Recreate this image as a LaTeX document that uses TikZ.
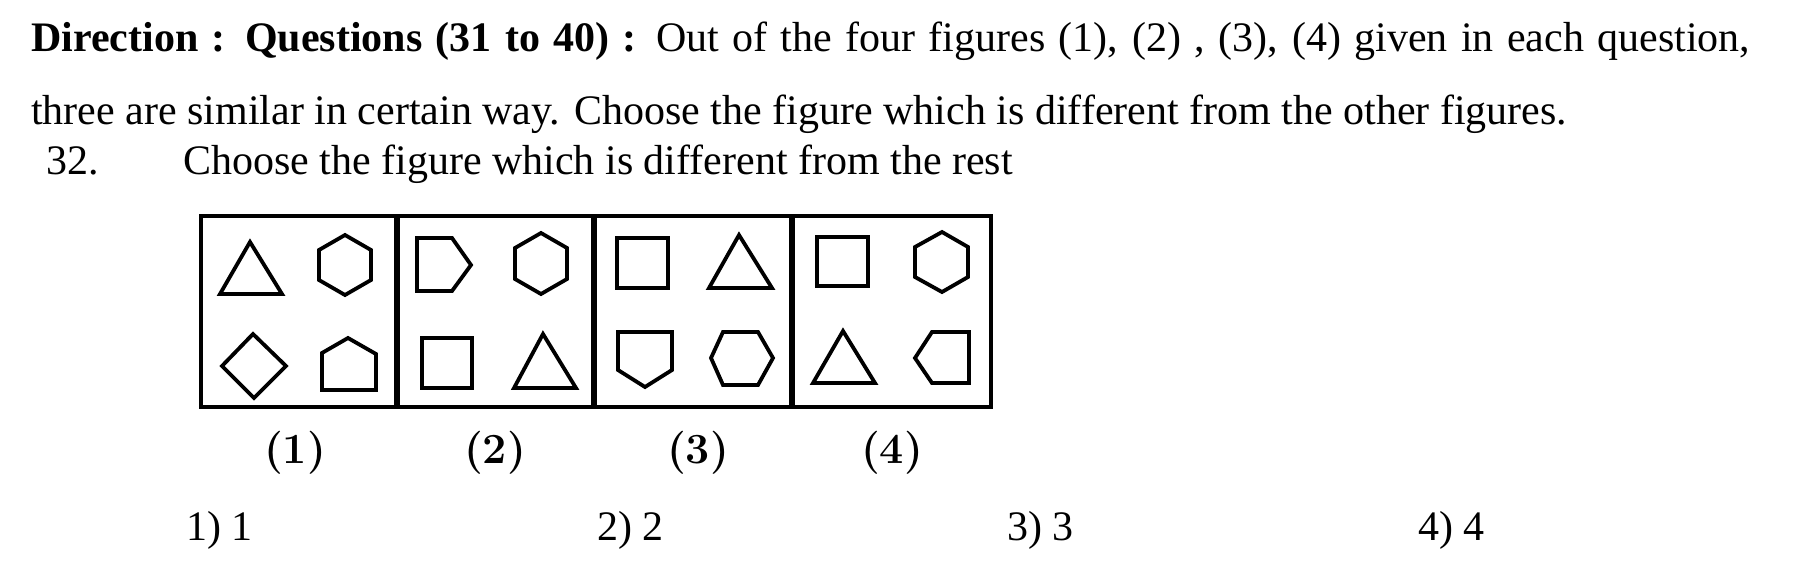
\documentclass[tikz,border=0pt]{standalone}
\usepackage{fontspec}
\newfontfamily\tnr{Liberation Serif}
\begin{document}
\begin{tikzpicture}[x=1pt,y=-1pt,
  txt/.style={inner sep=0pt,anchor=base west,font=\tnr\fontsize{42}{50}\selectfont},
  lbl/.style={inner sep=0pt,anchor=base,font=\bfseries\fontsize{43}{50}\selectfont},
  shp/.style={line width=3.8pt,line join=miter},
  frame/.style={line width=4.3pt},
  divider/.style={line width=5.5pt}]
\useasboundingbox[fill=white] (0,0) rectangle (1794,568);
% heading text
\node[txt] (l1) at (31,51) {\makebox[1719pt][s]{\bfseries Direction : Questions (31 to 40) :\mdseries{} Out of the four figures (1), (2) , (3), (4) given in each question,}};
\node[txt] (l2) at (31,124) {three are similar in certain way. Choose the figure which is different from the other figures.};
\node[txt] (qn) at (46,174) {32.};
\node[txt] (qt) at (183,174) {Choose the figure which is different from the rest};
% frame
\draw[frame] (201,216) rectangle (991,407);
\draw[divider] (397,216) -- (397,407);
\draw[divider] (594,216) -- (594,407);
\draw[divider] (792,216) -- (792,407);
% panel 1
\draw[shp] (250,242) -- (220,294) -- (282,294) -- cycle;
\draw[shp] (345,235) -- (371,250) -- (371,280) -- (345,295) -- (319,280) -- (319,250) -- cycle;
\draw[shp] (253,334) -- (286,366) -- (254,398) -- (222,366) -- cycle;
\draw[shp] (322,390) -- (376,390) -- (376,354) -- (348,338) -- (322,353) -- cycle;
% panel 2
\draw[shp] (417,238) -- (452,238) -- (471,265) -- (452,291) -- (417,291) -- cycle;
\draw[shp] (541,233) -- (567,248) -- (567,279) -- (541,294) -- (515,279) -- (515,248) -- cycle;
\draw[shp] (422,338) rectangle (472,388);
\draw[shp] (543,334) -- (514,388) -- (576,388) -- cycle;
% panel 3
\draw[shp] (617,238) rectangle (668,288);
\draw[shp] (739,235) -- (709,288) -- (772,288) -- cycle;
\draw[shp] (618,332) -- (672,332) -- (672,370) -- (645,387) -- (618,370) -- cycle;
\draw[shp] (711,358) -- (723,332) -- (758,332) -- (773,358) -- (758,385) -- (723,385) -- cycle;
% panel 4
\draw[shp] (817,237) rectangle (868,286);
\draw[shp] (942,232) -- (968,247) -- (968,277) -- (942,292) -- (915,277) -- (915,247) -- cycle;
\draw[shp] (843,331) -- (813,383) -- (875,383) -- cycle;
\draw[shp] (915,358) -- (932,332) -- (969,332) -- (969,383) -- (932,383) -- cycle;
% labels
\node[lbl] (f1) at (295,463) {(1)};
\node[lbl] (f2) at (495,463) {(2)};
\node[lbl] (f3) at (698,463) {(3)};
\node[lbl] (f4) at (892,463) {(4)};
% answers
\node[txt] (a1) at (186,540) {1) 1};
\node[txt] (a2) at (597,540) {2) 2};
\node[txt] (a3) at (1007,540) {3) 3};
\node[txt] (a4) at (1418,540) {4) 4};
\end{tikzpicture}
\end{document}
